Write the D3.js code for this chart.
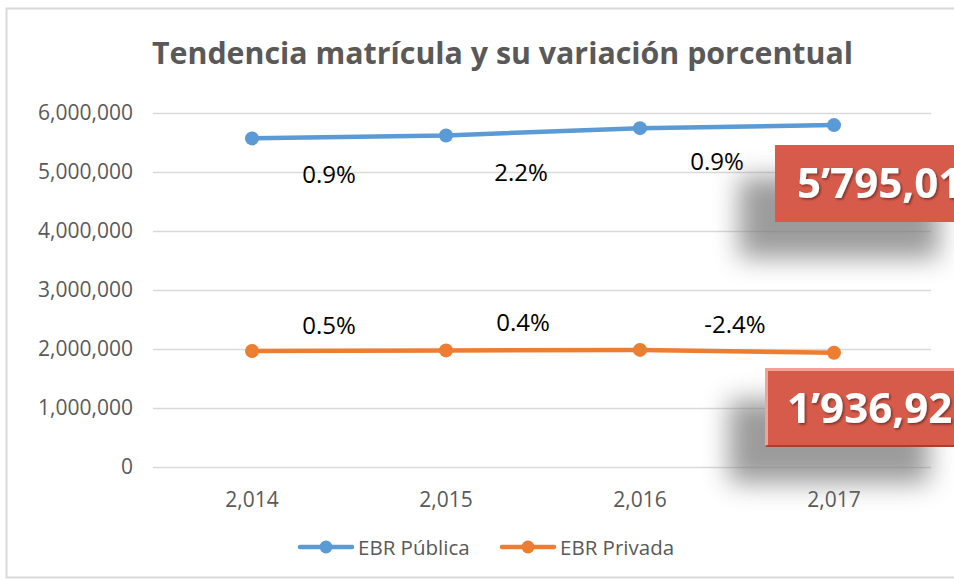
<!DOCTYPE html>
<html lang="es">
<head>
<meta charset="utf-8">
<title>Tendencia matrícula</title>
<script src="https://d3js.org/d3.v7.min.js"></script>
<style>
  body { margin: 0; background: #fff; }
  svg { display: block; font-family: "Open Sans", Calibri, sans-serif; }
</style>
</head>
<body>
<svg id="chart" width="954" height="582"></svg>
<script>
// data
const years = ["2,014", "2,015", "2,016", "2,017"];
const publica = [5569600, 5619700, 5743300, 5795010];
const privada = [1966800, 1976600, 1984500, 1936920];
const varPublica = ["0.9%", "2.2%", "0.9%"];
const varPrivada = ["0.5%", "0.4%", "-2.4%"];
const yTicks = [0, 1000000, 2000000, 3000000, 4000000, 5000000, 6000000];
const callouts = ["5’795,01", "1’936,92"];

const svg = d3.select("#chart");
const width = 954, height = 582;
const margin = { top: 113, right: 23, bottom: 115, left: 153 };

const defs = svg.append("defs");
const blur = defs.append("filter").attr("id", "shadow")
  .attr("x", "-50%").attr("y", "-80%").attr("width", "200%").attr("height", "260%");
blur.append("feGaussianBlur").attr("stdDeviation", 13);
const txtShadow = defs.append("filter").attr("id", "tshadow");
txtShadow.append("feDropShadow").attr("dx", 1.5).attr("dy", 1.5)
  .attr("stdDeviation", 1).attr("flood-color", "#000").attr("flood-opacity", 0.45);

// chart frame
svg.append("rect")
  .attr("x", 6.5).attr("y", 8.5)
  .attr("width", 960).attr("height", 569)
  .attr("fill", "none").attr("stroke", "#d9d9d9").attr("stroke-width", 2);

svg.append("text")
  .attr("x", 152).attr("y", 64)
  .attr("fill", "#595959")
  .attr("font-size", 31).attr("font-weight", 700)
  .attr("textLength", 701).attr("lengthAdjust", "spacingAndGlyphs")
  .text("Tendencia matrícula y su variación porcentual");

const x = d3.scaleBand().domain(years)
  .range([margin.left + 2, width - margin.right]);
const y = d3.scaleLinear().domain([0, 6000000])
  .range([height - margin.bottom, margin.top]);
const cx = d => x(d) + x.bandwidth() / 2;

// gridlines
svg.append("g")
  .selectAll("line").data(yTicks).join("line")
  .attr("x1", margin.left).attr("x2", width - margin.right)
  .attr("y1", d => Math.round(y(d)) + 0.5).attr("y2", d => Math.round(y(d)) + 0.5)
  .attr("stroke", "#d9d9d9").attr("stroke-width", 1.3);

// y axis
const yAxis = svg.append("g")
  .attr("transform", `translate(${margin.left},0)`)
  .call(d3.axisLeft(y).tickValues(yTicks).tickSize(0).tickPadding(20)
    .tickFormat(d3.format(",")));
yAxis.select(".domain").remove();
yAxis.selectAll("text").attr("fill", "#595959").attr("font-size", 21)
  .attr("font-family", "'Open Sans', sans-serif");

// x axis
const xAxis = svg.append("g")
  .attr("transform", `translate(0,${height - margin.bottom})`)
  .call(d3.axisBottom(x).tickSize(0).tickPadding(25));
xAxis.select(".domain").remove();
xAxis.selectAll("text").attr("fill", "#595959").attr("font-size", 21)
  .attr("font-family", "'Open Sans', sans-serif");

const series = [
  { values: publica, color: "#5b9bd5", labels: varPublica,
    dx: [-20, -22, -20], dy: [46, 49, 43] },
  { values: privada, color: "#ed7d31", labels: varPrivada,
    dx: [-20, -20, -2], dy: [-17, -19, -18] }
];

const line = d3.line().x((d, i) => cx(years[i])).y(d => y(d));

series.forEach(s => {
  svg.append("path")
    .attr("d", line(s.values))
    .attr("fill", "none").attr("stroke", s.color)
    .attr("stroke-width", 4.5).attr("stroke-linecap", "round");
  svg.append("g").selectAll("circle").data(s.values).join("circle")
    .attr("cx", (d, i) => cx(years[i])).attr("cy", d => y(d))
    .attr("r", 7).attr("fill", s.color);
  // percentage change labels between years
  svg.append("g").selectAll("text").data(s.labels).join("text")
    .attr("x", (d, i) => (cx(years[i]) + cx(years[i + 1])) / 2 + s.dx[i])
    .attr("y", (d, i) => (y(s.values[i]) + y(s.values[i + 1])) / 2 + s.dy[i])
    .attr("text-anchor", "middle")
    .attr("fill", "#000").attr("font-size", 24)
    .attr("font-family", "'Open Sans', sans-serif")
    .text(d => d);
});

// red callout boxes with the 2017 totals
const boxes = [
  { x: 775, y: 145, w: 200, h: 77, text: callouts[0], tx: 797, ty: 53, bevel: false },
  { x: 765, y: 368, w: 200, h: 79, text: callouts[1], tx: 787, ty: 55, bevel: true }
];
boxes.forEach(b => {
  svg.append("rect")
    .attr("x", b.x - 36).attr("y", b.y + 32)
    .attr("width", b.w).attr("height", b.h + 4)
    .attr("fill", "#7a7a7a").attr("opacity", 0.75)
    .attr("filter", "url(#shadow)");
  svg.append("rect")
    .attr("x", b.x).attr("y", b.y).attr("width", b.w).attr("height", b.h)
    .attr("fill", "#d65b4b");
  if (b.bevel) {
    svg.append("path")
      .attr("d", `M${b.x + 1.5},${b.y + b.h - 1.5} V${b.y + 1.5} H${b.x + b.w}`)
      .attr("fill", "none").attr("stroke", "#f0a497").attr("stroke-width", 3);
    svg.append("path")
      .attr("d", `M${b.x + 1.5},${b.y + b.h - 1} H${b.x + b.w}`)
      .attr("fill", "none").attr("stroke", "#a8402f").attr("stroke-width", 2);
  }
  svg.append("text")
    .attr("x", b.tx).attr("y", b.y + b.ty)
    .attr("fill", "#fff").attr("font-size", 42).attr("font-weight", 700)
    .attr("filter", "url(#tshadow)")
    .text(b.text);
});

// legend
const legend = svg.append("g").attr("transform", "translate(298,547)");
const legendItems = [
  { name: "EBR Pública", color: "#5b9bd5", x: 0 },
  { name: "EBR Privada", color: "#ed7d31", x: 202 }
];
legendItems.forEach(l => {
  const g = legend.append("g").attr("transform", `translate(${l.x},0)`);
  g.append("line").attr("x1", 2).attr("x2", 54).attr("y1", 0).attr("y2", 0)
    .attr("stroke", l.color).attr("stroke-width", 4.5).attr("stroke-linecap", "round");
  g.append("circle").attr("cx", 28).attr("cy", 0).attr("r", 6.5).attr("fill", l.color);
  g.append("text").attr("x", 60).attr("y", 7.5)
    .attr("fill", "#595959").attr("font-size", 20.5)
    .attr("font-family", "'Open Sans', sans-serif")
    .text(l.name);
});
</script>
</body>
</html>
